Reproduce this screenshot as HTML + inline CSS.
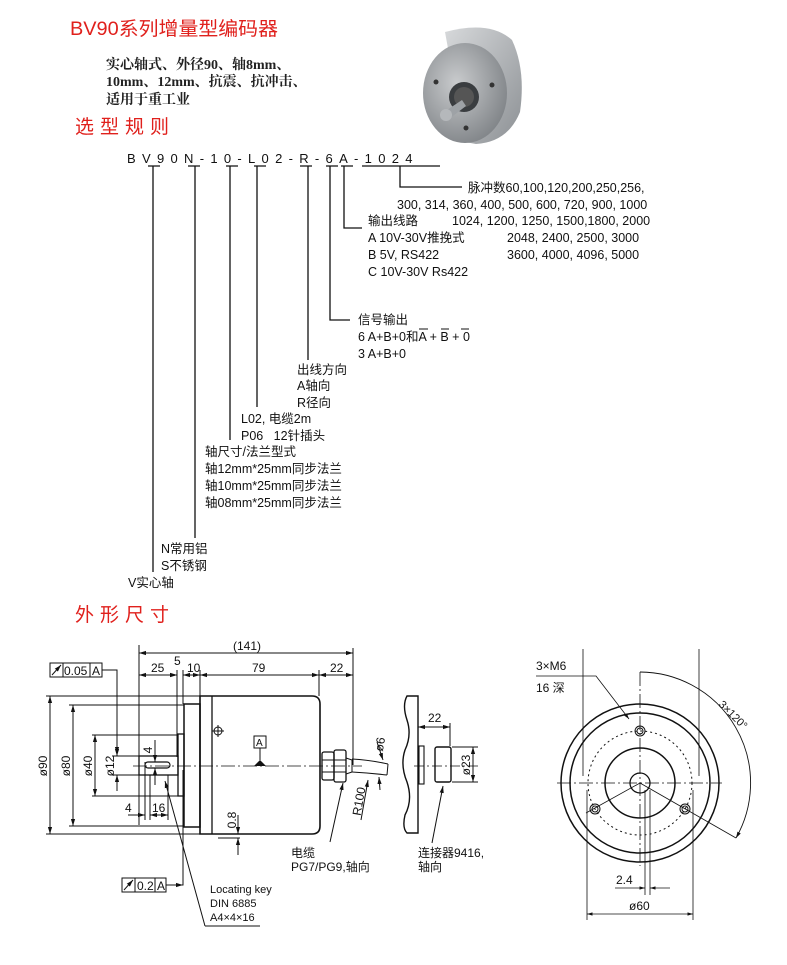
<!DOCTYPE html>
<html><head><meta charset="utf-8"><style>
html,body{margin:0;padding:0;background:#fff}
svg{display:block}
text{font-family:"Liberation Sans","Noto Sans CJK SC",sans-serif;fill:#111}
.r{fill:#e0201c}
.s{font-family:"Liberation Serif","Noto Serif CJK SC",serif;font-weight:bold;font-size:14px;fill:#222}
.c{font-size:12.5px}
.d{font-size:12px}
</style></head><body>
<svg width="787" height="965" viewBox="0 0 787 965" xmlns="http://www.w3.org/2000/svg">
<defs>
<marker id="a" viewBox="0 0 10 10" refX="10" refY="5" markerWidth="7" markerHeight="7" orient="auto-start-reverse"><path d="M0,2L10,5L0,8z" fill="#111"/></marker>
<radialGradient id="g1" cx="0.4" cy="0.4" r="0.7"><stop offset="0" stop-color="#c9cbcd"/><stop offset="1" stop-color="#7b7f83"/></radialGradient>
<linearGradient id="g2" x1="0" y1="0" x2="1" y2="1"><stop offset="0" stop-color="#d7d9db"/><stop offset="1" stop-color="#8c9094"/></linearGradient>
</defs>

<!-- header -->
<text x="70" y="35" class="r" font-size="19" textLength="208" lengthAdjust="spacingAndGlyphs">BV90系列增量型编码器</text>
<text x="106" y="69" class="s">实心轴式、外径90、轴8mm、</text>
<text x="106" y="86" class="s">10mm、12mm、抗震、抗冲击、</text>
<text x="106" y="104" class="s">适用于重工业</text>
<text x="75" y="133" class="r" font-size="19" letter-spacing="6">选型规则</text>

<!-- photo -->
<path d="M445,32 Q490,20 512,40 Q526,70 520,112 Q508,142 476,144 L465,142 Z" fill="url(#g2)"/>
<ellipse cx="465" cy="93" rx="42" ry="50" fill="url(#g1)"/>
<circle cx="464" cy="97" r="15" fill="#3a3d40"/>
<circle cx="464" cy="97" r="10" fill="#555"/>
<path d="M444,112 L462,100 L466,106 L449,119 Z" fill="#9ea2a6"/>
<circle cx="446" cy="115" r="6" fill="#b5b8bb"/>
<circle cx="436" cy="82" r="2.5" fill="#333"/><circle cx="492" cy="85" r="2.5" fill="#333"/><circle cx="466" cy="128" r="2.5" fill="#333"/>

<!-- code -->
<text x="127" y="163" font-size="13" letter-spacing="6.3">BV90N-10-L02-R-6A-1024</text>
<g stroke="#111" stroke-width="1.3" fill="none">
<path d="M148,166H160M188,166H200M226,166H238M254,166H266M300,166H312M326,166H338M341,166H353M362,166H440"/>
<path d="M153,166V572M195,166V538M230,166V440M257,166V407M308,166V360M330,166V320H350M344,166V228H362M400,166V187H462"/>
</g>
<g class="c">
<text x="468" y="192">脉冲数60,100,120,200,250,256,</text>
<text x="397" y="209">300, 314, 360, 400, 500, 600, 720, 900, 1000</text>
<text x="368" y="225">输出线路</text><text x="452" y="225">1024, 1200, 1250, 1500,1800, 2000</text>
<text x="368" y="242">A 10V-30V推挽式</text><text x="507" y="242">2048, 2400, 2500, 3000</text>
<text x="368" y="259">B 5V, RS422</text><text x="507" y="259">3600, 4000, 4096, 5000</text>
<text x="368" y="276">C 10V-30V Rs422</text>
<text x="358" y="324">信号输出</text>
<text x="358" y="341">6 A+B+0和A + B + 0</text>
<text x="358" y="358">3 A+B+0</text>
<text x="297" y="374">出线方向</text>
<text x="297" y="390">A轴向</text>
<text x="297" y="407">R径向</text>
<text x="241" y="423">L02, 电缆2m</text>
<text x="241" y="440">P06&#160;&#160; 12针插头</text>
<text x="205" y="456">轴尺寸/法兰型式</text>
<text x="205" y="473">轴12mm*25mm同步法兰</text>
<text x="205" y="490">轴10mm*25mm同步法兰</text>
<text x="205" y="507">轴08mm*25mm同步法兰</text>
<text x="161" y="553">N常用铝</text>
<text x="161" y="570">S不锈钢</text>
<text x="128" y="587">V实心轴</text>
</g>
<path d="M419,329H428M441,329H449M461,329H469" stroke="#111" stroke-width="1"/>

<text x="75" y="621" class="r" font-size="19" letter-spacing="6">外形尺寸</text>

<!-- side view -->
<g stroke="#111" stroke-width="1" fill="none">
<path d="M200,696H312Q320,696 320,704V826Q320,834 312,834H200Z" stroke-width="1.6"/>
<path d="M212,696V834" stroke-width="1.3"/>
<rect x="184" y="704" width="16" height="123" stroke-width="1.5"/>
<rect x="178" y="734" width="6" height="62" stroke-width="1.3"/>
<rect x="139" y="756" width="39" height="19" stroke-width="1.3"/>
<rect x="145" y="762" width="25" height="6" rx="3" stroke-width="1.2"/>
<rect x="322" y="752" width="12" height="28" rx="2" stroke-width="1.3"/>
<rect x="334" y="750" width="12" height="32" rx="2" stroke-width="1.3"/>
<path d="M322,760H346M322,772H346M346,758L352,760V772L346,774"/>
<path d="M352,759Q370,760 388,764M352,772Q370,773 387,775M388,764L387,775"/>
<path d="M133,766H362" stroke-dasharray="14,3,2,3" stroke-width="0.8"/>
<circle cx="218" cy="731" r="4"/><path d="M212,731H224M218,725V737"/>
<rect x="254" y="736" width="12" height="12" stroke-width="1"/>
<path d="M260,748V760"/>
<path d="M139,645V825M353,648V765M177,670V757M183,670V704M200,670V696M319,670V696"/>
<path d="M139,653H353" marker-start="url(#a)" marker-end="url(#a)"/>
<path d="M139,675H177" marker-start="url(#a)" marker-end="url(#a)"/>
<path d="M168,675H177" marker-end="url(#a)"/><path d="M192,675H183" marker-end="url(#a)"/>
<path d="M183,675H200" marker-end="url(#a)"/>
<path d="M200,675H319" marker-start="url(#a)" marker-end="url(#a)"/>
<path d="M319,675H353" marker-start="url(#a)" marker-end="url(#a)"/>
<path d="M46,696H200M69,705H184M92,735H178M112,756H139M112,775H139M46,834H200M69,826H184"/>
<path d="M50,696V834" marker-start="url(#a)" marker-end="url(#a)"/>
<path d="M73,705V826" marker-start="url(#a)" marker-end="url(#a)"/>
<path d="M95,735V796" marker-start="url(#a)" marker-end="url(#a)"/><path d="M92,796H178"/>
<path d="M117,740V756" marker-end="url(#a)"/><path d="M117,791V775" marker-end="url(#a)"/>
<rect x="50" y="663" width="52" height="14"/><path d="M63,663V677M90,663V677"/>
<path d="M52,675L61,665" marker-end="url(#a)"/>
<path d="M102,670H117V754" marker-end="url(#a)"/>
<path d="M155,740V762" marker-end="url(#a)"/><path d="M155,785V768" marker-end="url(#a)"/>
<path d="M145,762V820M150,775V820M168,775V820"/>
<path d="M128,815H145" marker-end="url(#a)"/><path d="M150,815H168" marker-start="url(#a)" marker-end="url(#a)"/>
<path d="M238,815V834" marker-end="url(#a)"/><path d="M238,855V838" marker-end="url(#a)"/><path d="M218,838H240"/>
<rect x="122" y="878" width="44" height="14"/><path d="M135,878V892M155,878V892"/>
<path d="M124,890L133,880" marker-end="url(#a)"/>
<path d="M166,885H183V770"/><path d="M170,885H183" marker-end="url(#a)"/>
<path d="M205,926L165,781" marker-end="url(#a)"/><path d="M205,926H260"/>
<path d="M330,842L343,783" marker-end="url(#a)"/>
<path d="M361,820L368,780" marker-end="url(#a)"/>
<path d="M377,742L383,760" marker-end="url(#a)"/><path d="M380,790L379,777" marker-end="url(#a)"/>
<path d="M407,696Q402,705 407,720Q412,735 405,750Q400,765 407,782Q413,800 405,815Q402,828 407,833H418V696Z" stroke-width="1.4"/>
<rect x="419" y="746" width="5" height="38" stroke-width="1.1"/>
<rect x="435" y="747" width="16" height="35" rx="2" stroke-width="1.4"/>
<path d="M418,746V727M450,746V723"/><path d="M418,727H450" marker-start="url(#a)" marker-end="url(#a)"/>
<path d="M452,747H478M452,782H478"/><path d="M473,747V782" marker-start="url(#a)" marker-end="url(#a)"/>
<path d="M414,766H480" stroke-dasharray="10,3,2,3" stroke-width="0.8"/>
<path d="M432,843L443,786" marker-end="url(#a)"/>
</g>
<path d="M254,766L260,760L266,766Z" fill="#111"/>
<text x="256" y="746" font-size="10">A</text>
<g class="d">
<text x="247" y="650" text-anchor="middle">(141)</text>
<text x="151" y="672">25</text><text x="174" y="665">5</text><text x="187" y="672">10</text>
<text x="252" y="672">79</text><text x="330" y="672">22</text>
<text x="64" y="675">0.05</text><text x="92" y="675">A</text>
<text x="137" y="890">0.2</text><text x="157" y="890">A</text>
<text x="125" y="812">4</text><text x="152" y="812">16</text>
<text x="210" y="893" font-size="11">Locating key</text>
<text x="210" y="907" font-size="11">DIN 6885</text>
<text x="210" y="921" font-size="11">A4×4×16</text>
<text x="291" y="857">电缆</text>
<text x="291" y="871">PG7/PG9,轴向</text>
<text x="418" y="857">连接器9416,</text>
<text x="418" y="871">轴向</text>
<text x="428" y="722">22</text>
<text transform="translate(47,766) rotate(-90)" text-anchor="middle">ø90</text>
<text transform="translate(70,766) rotate(-90)" text-anchor="middle">ø80</text>
<text transform="translate(92,766) rotate(-90)" text-anchor="middle">ø40</text>
<text transform="translate(114,766) rotate(-90)" text-anchor="middle">ø12</text>
<text transform="translate(152,750) rotate(-90)" text-anchor="middle">4</text>
<text transform="translate(236,820) rotate(-90)" text-anchor="middle">0.8</text>
<text transform="translate(363,802) rotate(-80)" text-anchor="middle">R100</text>
<text transform="translate(384,745) rotate(-80)" text-anchor="middle">ø6</text>
<text transform="translate(470,765) rotate(-90)" text-anchor="middle">ø23</text>
</g>

<!-- front view -->
<g stroke="#111" fill="none">
<circle cx="640" cy="783" r="79" stroke-width="1.5"/>
<circle cx="640" cy="783" r="70" stroke-width="1.5"/>
<circle cx="640" cy="783" r="52" stroke-width="1" stroke-dasharray="2,3"/>
<circle cx="640" cy="783" r="35" stroke-width="1.5"/>
<circle cx="640" cy="783" r="10" stroke-width="1.3"/>
<circle cx="640" cy="731" r="5"/><circle cx="640" cy="731" r="3"/>
<circle cx="595" cy="809" r="5"/><circle cx="595" cy="809" r="3"/>
<circle cx="685" cy="809" r="5"/><circle cx="685" cy="809" r="3"/>
<path d="M557,783H722M640,672V866" stroke-width="0.8" stroke-dasharray="14,3,2,3"/>
<path d="M640,783L586,813M640,783L736,838" stroke-width="0.8"/>
<path d="M583,649V776M699,649V776M587,790V920M693,790V920M645,790V895M650,790V895" stroke-width="0.8"/>
<path d="M587,914H693" marker-start="url(#a)" marker-end="url(#a)" stroke-width="0.8"/>
<path d="M615,888H645" marker-end="url(#a)" stroke-width="0.8"/><path d="M670,888H650" marker-end="url(#a)" stroke-width="0.8"/>
<path d="M536,676H596L629,719" marker-end="url(#a)" stroke-width="0.8"/>
<path d="M640,672A111,111 0 0 1 736,838" marker-end="url(#a)" stroke-width="0.9"/>
</g>
<g class="d">
<text x="536" y="670">3×M6</text>
<text x="536" y="692">16 深</text>
<text x="616" y="884">2.4</text>
<text x="629" y="910">ø60</text>
<text transform="translate(718,705) rotate(45)" font-size="11">3×120°</text>
</g>
</svg>
</body></html>
